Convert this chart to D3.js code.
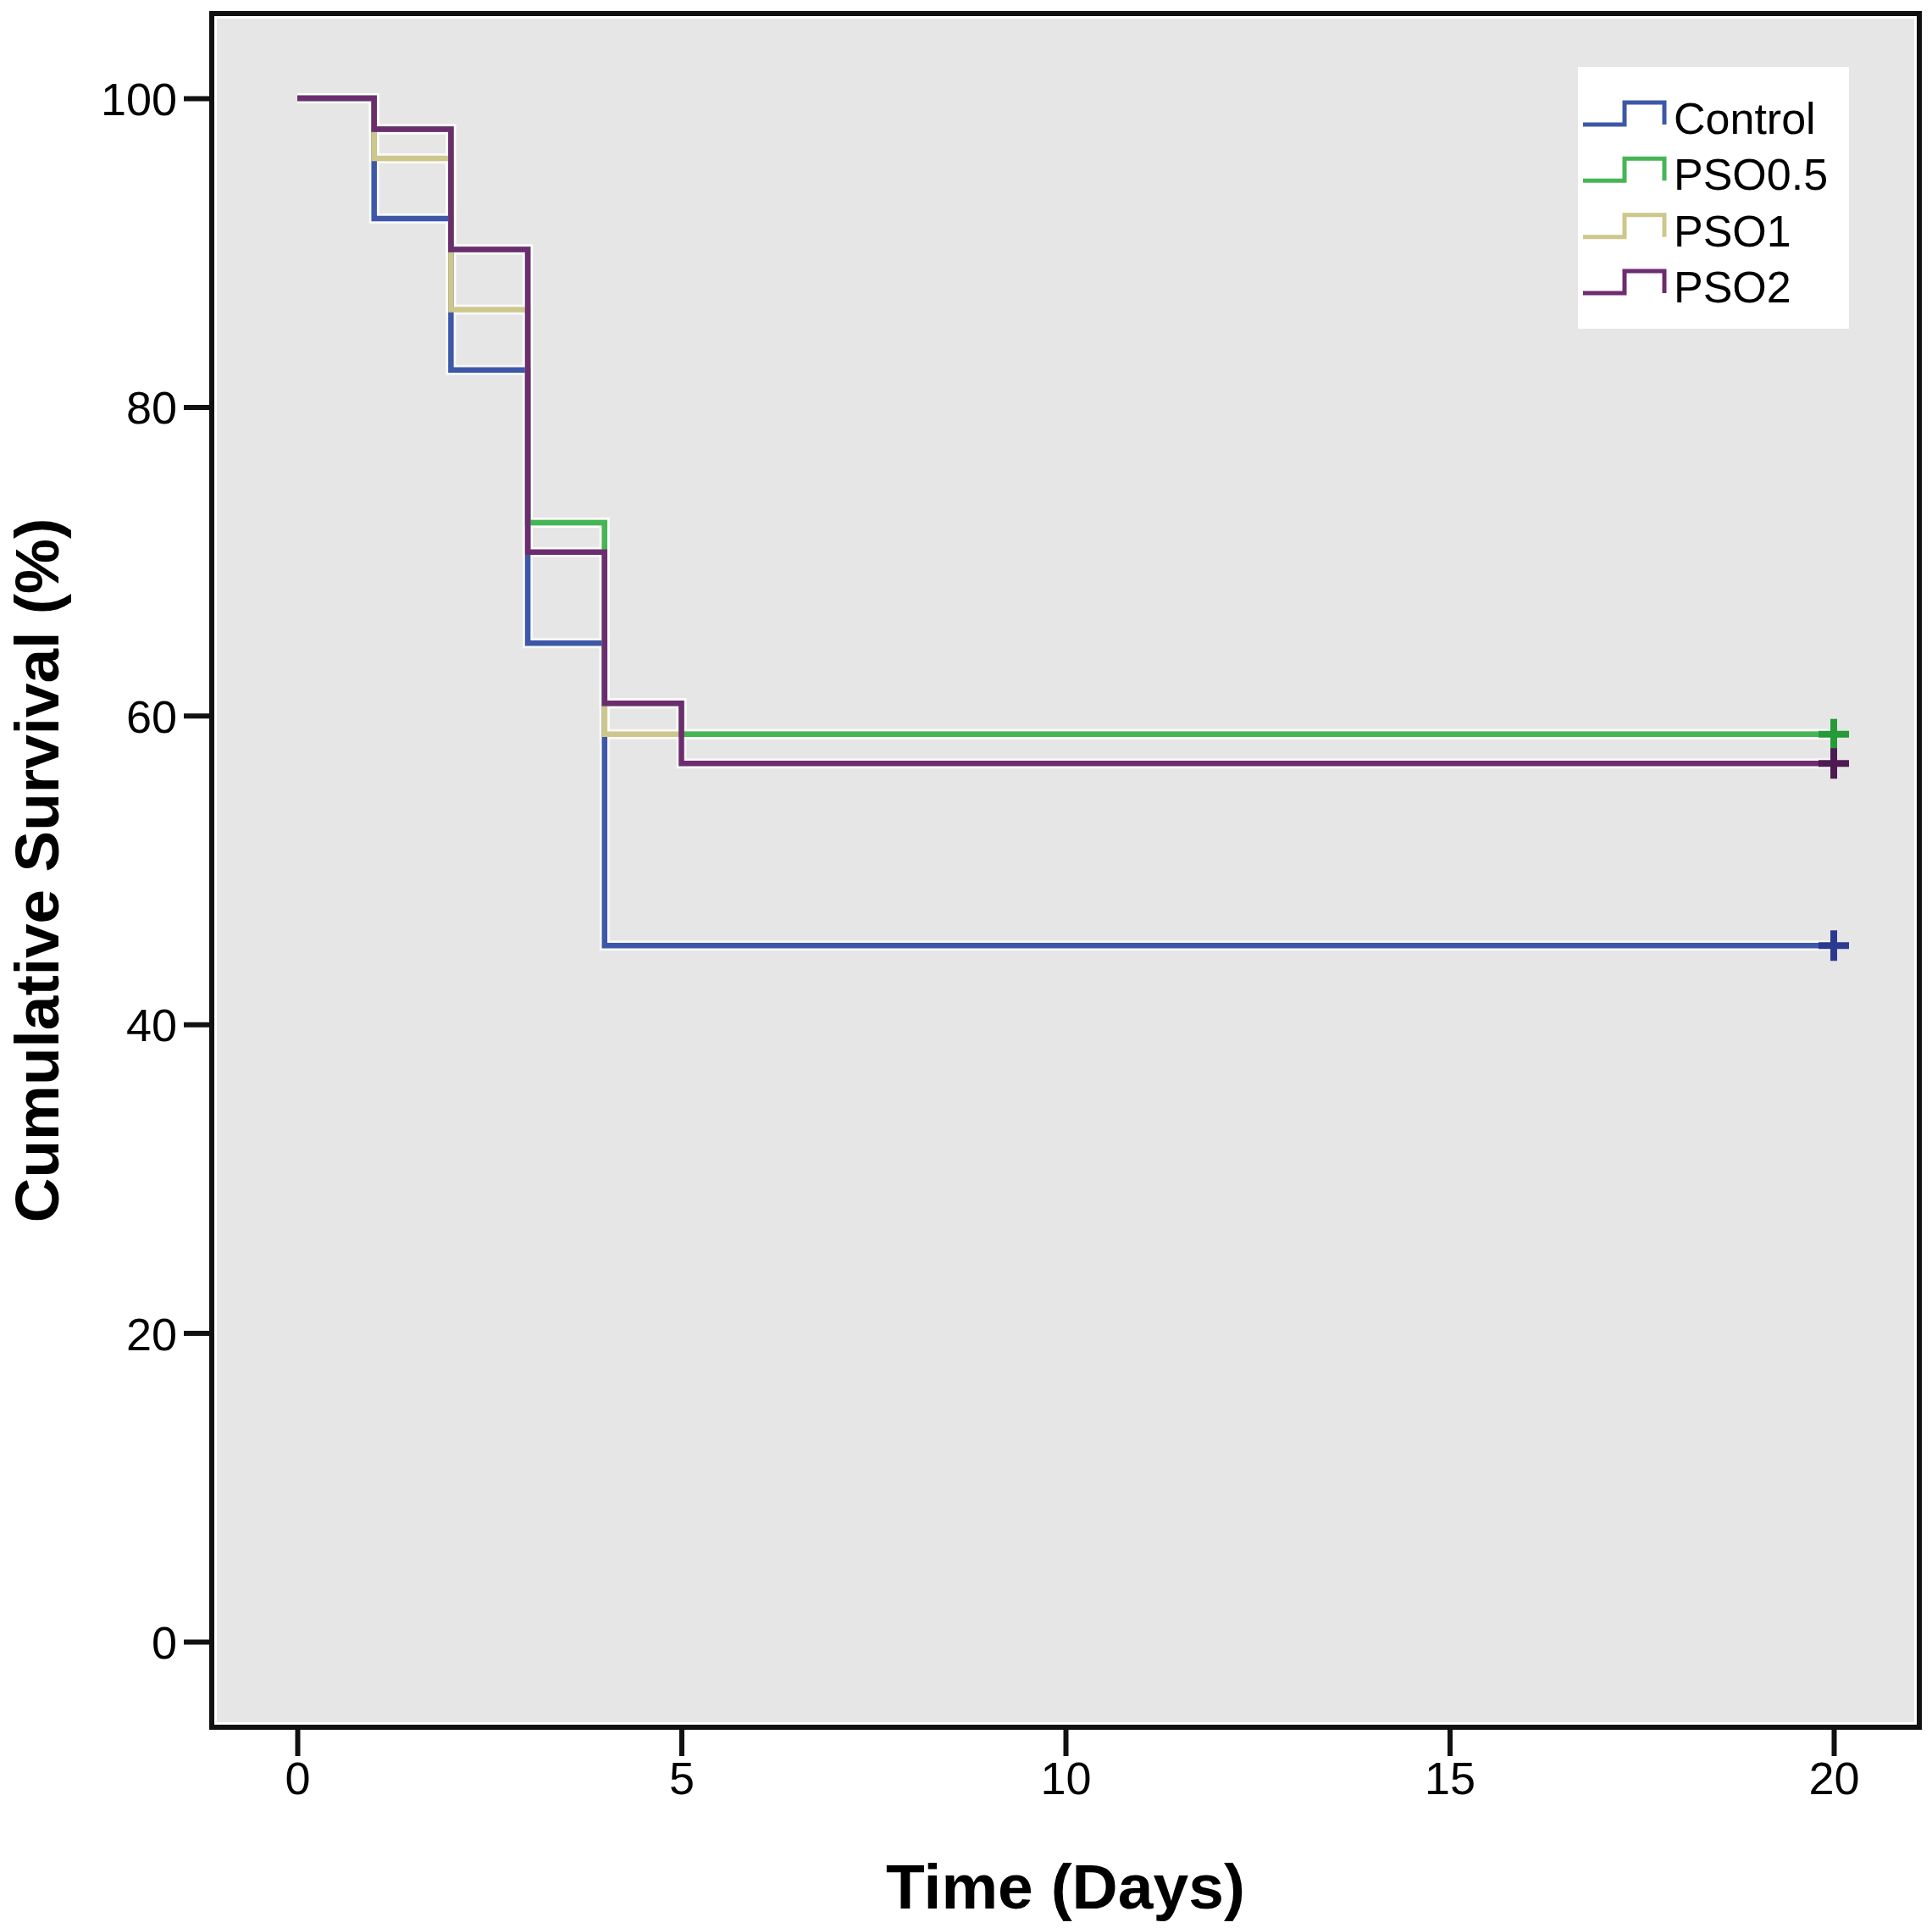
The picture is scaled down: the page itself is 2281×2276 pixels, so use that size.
<!DOCTYPE html>
<html>
<head>
<meta charset="utf-8">
<script src="https://cdn.jsdelivr.net/npm/d3@7"></script>
<style>
    body { margin: 0; background: #ffffff; }
    svg text { font-family: 'Liberation Sans', Arial, sans-serif; fill: #000; }
</style>
</head>
<body>
<script>
// survival values (percent)
const groups = ['Control', 'PSO0.5', 'PSO1', 'PSO2'];
const controlDays = [0, 1, 2, 3, 4, 20];
const controlSurv = [100, 92.2, 82.4, 64.7, 45.1, 45.1];
const pso05Days = [0, 1, 2, 3, 4, 5, 20];
const pso05Surv = [100, 98.0, 90.2, 72.5, 60.8, 58.8, 58.8];
const pso1Days = [0, 1, 2, 3, 4, 20];
const pso1Surv = [100, 96.1, 86.3, 72.5, 58.8, 58.8];
const pso2Days = [0, 1, 2, 3, 4, 5, 20];
const pso2Surv = [100, 98.0, 90.2, 70.6, 60.8, 56.9, 56.9];
const censorDay = 20;
const xTicks = [0, 5, 10, 15, 20];
const yTicks = [0, 20, 40, 60, 80, 100];

const width = 2281;
const height = 2276;

// frame of the plot area
const frameLeft = 250;
const frameRight = 2266;
const frameTop = 16;
const frameBottom = 2039;

const colors = {
    'Control': '#3d58a8',
    'PSO0.5': '#45b655',
    'PSO1': '#cdc78c',
    'PSO2': '#6e2c70'
};
const censorColors = {
    'Control': '#2a3a90',
    'PSO0.5': '#259a38',
    'PSO1': '#b8b070',
    'PSO2': '#4d1a52'
};

const series = [
    { name: 'Control', days: controlDays, surv: controlSurv },
    { name: 'PSO1', days: pso1Days, surv: pso1Surv },
    { name: 'PSO0.5', days: pso05Days, surv: pso05Surv },
    { name: 'PSO2', days: pso2Days, surv: pso2Surv }
];

const svg = d3.select('body')
    .append('svg')
    .attr('width', width)
    .attr('height', height);

const x = d3.scaleLinear().domain([0, 20]).range([351, 2165]);
const y = d3.scaleLinear().domain([0, 100]).range([1938, 116]);

// plot background with thin white inner border
svg.append('rect')
    .attr('x', frameLeft).attr('y', frameTop)
    .attr('width', frameRight - frameLeft).attr('height', frameBottom - frameTop)
    .attr('fill', '#ffffff');
svg.append('rect')
    .attr('x', frameLeft + 6).attr('y', frameTop + 6)
    .attr('width', frameRight - frameLeft - 12).attr('height', frameBottom - frameTop - 12)
    .attr('fill', '#e6e6e6');

// step lines
const line = d3.line()
    .x(d => x(d[0]))
    .y(d => y(d[1]))
    .curve(d3.curveStepAfter);

const plot = svg.append('g');

series.forEach(s => {
    const pts = s.days.map((d, i) => [d, s.surv[i]]);
    plot.append('path')
        .attr('d', line(pts))
        .attr('fill', 'none')
        .attr('stroke', '#ffffff')
        .attr('stroke-opacity', 0.75)
        .attr('stroke-width', 12);
});

series.forEach(s => {
    const pts = s.days.map((d, i) => [d, s.surv[i]]);
    plot.append('path')
        .attr('d', line(pts))
        .attr('fill', 'none')
        .attr('stroke', colors[s.name])
        .attr('stroke-width', 6.5);
});

// censor marks at the end of follow-up
series.filter(s => s.name !== 'PSO1').forEach(s => {
    const cx = x(censorDay);
    const cy = y(s.surv[s.surv.length - 1]);
    const g = plot.append('g').attr('stroke', censorColors[s.name]).attr('stroke-width', 8);
    g.append('line').attr('x1', cx - 18).attr('x2', cx + 18).attr('y1', cy).attr('y2', cy);
    g.append('line').attr('x1', cx).attr('x2', cx).attr('y1', cy - 18).attr('y2', cy + 18);
});

// frame
svg.append('rect')
    .attr('x', frameLeft).attr('y', frameTop)
    .attr('width', frameRight - frameLeft).attr('height', frameBottom - frameTop)
    .attr('fill', 'none')
    .attr('stroke', '#111')
    .attr('stroke-width', 6);

// axes
const yAxis = d3.axisLeft(y).tickValues(yTicks).tickSize(33).tickPadding(8);
const xAxis = d3.axisBottom(x).tickValues(xTicks).tickSize(34).tickPadding(6);

const yG = svg.append('g')
    .attr('transform', `translate(${frameLeft},0)`)
    .call(yAxis);
yG.select('.domain').remove();
yG.selectAll('.tick line').attr('stroke', '#111').attr('stroke-width', 6);
yG.selectAll('.tick text')
    .attr('font-size', 54)
    .attr('font-family', "'Liberation Sans', Arial, sans-serif")
    .attr('fill', '#111')
    .attr('dy', '0.36em');

const xG = svg.append('g')
    .attr('transform', `translate(0,${frameBottom})`)
    .call(xAxis);
xG.select('.domain').remove();
xG.selectAll('.tick line').attr('stroke', '#111').attr('stroke-width', 6);
xG.selectAll('.tick text')
    .attr('font-size', 54)
    .attr('font-family', "'Liberation Sans', Arial, sans-serif")
    .attr('fill', '#111')
    .attr('dy', '0.72em');

// axis titles
svg.append('text')
    .attr('x', (frameLeft + frameRight) / 2)
    .attr('y', 2253)
    .attr('text-anchor', 'middle')
    .attr('font-size', 75)
    .attr('font-weight', 'bold')
    .text('Time (Days)');

svg.append('text')
    .attr('transform', `translate(69,${(frameTop + frameBottom) / 2}) rotate(-90)`)
    .attr('text-anchor', 'middle')
    .attr('font-size', 73)
    .attr('font-weight', 'bold')
    .text('Cumulative Survival (%)');

// legend
const legend = svg.append('g');
legend.append('rect')
    .attr('x', 1863).attr('y', 79)
    .attr('width', 320).attr('height', 309)
    .attr('fill', '#ffffff');

const legendY = d3.scalePoint().domain(groups).range([158, 357]);

groups.forEach(name => {
    const by = legendY(name);
    const lo = by - 11;
    const hi = by - 37;
    legend.append('path')
        .attr('d', `M1869,${lo}H1918V${hi}H1965V${lo}`)
        .attr('fill', 'none')
        .attr('stroke', colors[name])
        .attr('stroke-width', 5);
    legend.append('text')
        .attr('x', 1976)
        .attr('y', by)
        .attr('font-size', 52)
        .text(name);
});
</script>
</body>
</html>
